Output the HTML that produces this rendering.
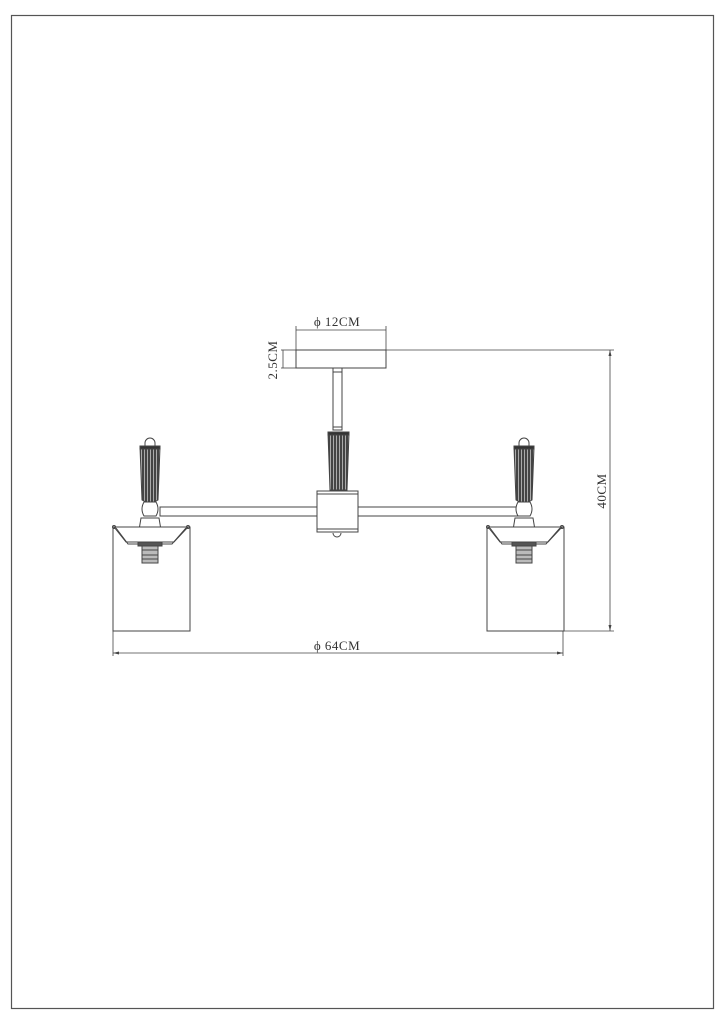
<!DOCTYPE html>
<html><head><meta charset="utf-8"><style>
html,body{margin:0;padding:0;background:#fff}
svg{display:block}
text{font-family:"Liberation Serif",serif;fill:#333;letter-spacing:0.5px}
</style></head><body>
<svg width="723" height="1024" viewBox="0 0 723 1024" xmlns="http://www.w3.org/2000/svg">
<defs>
<pattern id="rib" width="3" height="10" patternUnits="userSpaceOnUse"><rect width="3" height="10" fill="#444"/><rect width="1" height="10" fill="#aaa"/></pattern>
<g id="lamp" stroke="#444" stroke-width="1" fill="none">
  <path d="M-5,443 A5,5 0 0 1 5,443 L5,447 L-5,447 Z" fill="#fff"/>
  <path d="M-10,447 L10,447 L8,500 Q0,505 -8,500 Z" fill="url(#rib)"/>
  <rect x="-10" y="446" width="20" height="3" fill="#333"/>
  <path d="M-6,502 L6,502 Q10,509 6,516 L-6,516 Q-10,509 -6,502 Z" fill="#fff"/>
  <path d="M-9,518 L9,518 L11,530 L-11,530 Z" fill="#fff"/>
  <rect x="-37" y="527" width="77" height="104" fill="#fff"/>
  <path d="M-36,527 L-24,542 L24,542 L38,527" />
  <path d="M-34,528 L-22,544 L22,544 L36,528" />
  <circle cx="-36" cy="527" r="1.5"/><circle cx="38" cy="527" r="1.5"/>
  <rect x="-12" y="542" width="24" height="4" fill="#555"/>
  <rect x="-8" y="546" width="16" height="17" fill="#bbb"/>
  <line x1="-8" y1="550" x2="8" y2="550"/><line x1="-8" y1="555" x2="8" y2="555"/>
  <line x1="-8" y1="559" x2="8" y2="559"/>
</g>
</defs>
<rect x="11.5" y="15.5" width="702" height="993" fill="none" stroke="#555" stroke-width="1.2"/>
<g stroke="#444" stroke-width="1" fill="none">
  <rect x="296" y="350" width="90" height="18" fill="#fff"/>
  <rect x="333" y="368" width="9" height="62" fill="#fff"/>
  <line x1="333" y1="372" x2="342" y2="372"/>
  <line x1="333" y1="427" x2="342" y2="427"/>
  <path d="M328,433 L349,433 L347,490 L330,490 Z" fill="url(#rib)"/>
  <rect x="328" y="432" width="21" height="3" fill="#333"/>
  <rect x="160" y="507" width="157" height="9" fill="#fff"/>
  <rect x="358" y="507" width="162" height="9" fill="#fff"/>
  <rect x="317" y="491" width="41" height="41" fill="#fff"/>
  <line x1="317" y1="494" x2="358" y2="494"/>
  <line x1="317" y1="529" x2="358" y2="529"/>
  <path d="M333,533 A4,4 0 0 0 341,533"/>
</g>
<use href="#lamp" transform="translate(150,0)"/>
<use href="#lamp" transform="translate(524,0)"/>
<g stroke="#444" stroke-width="0.8" fill="none">
  <line x1="296" y1="330" x2="386" y2="330"/>
  <line x1="296" y1="326" x2="296" y2="350"/>
  <line x1="386" y1="326" x2="386" y2="350"/>
  <line x1="281" y1="350" x2="296" y2="350"/>
  <line x1="281" y1="368" x2="296" y2="368"/>
  <line x1="283" y1="350" x2="283" y2="368"/>
  <line x1="386" y1="350" x2="614" y2="350"/>
  <line x1="563" y1="631" x2="614" y2="631"/>
  <line x1="610" y1="350" x2="610" y2="631"/>
  <line x1="113" y1="631" x2="113" y2="656"/>
  <line x1="563" y1="631" x2="563" y2="656"/>
  <line x1="113" y1="653" x2="563" y2="653"/>
</g>
<g fill="#444">
  <path d="M113,653 l6,-1.5 v3z"/><path d="M563,653 l-6,-1.5 v3z"/>
  <path d="M610,350 l-1.5,6 h3z"/><path d="M610,631 l-1.5,-6 h3z"/>
</g>
<text x="337" y="326" font-size="13" text-anchor="middle">ϕ 12CM</text>
<text x="337" y="650" font-size="13" text-anchor="middle">ϕ 64CM</text>
<text font-size="13" text-anchor="middle" transform="translate(277,360) rotate(-90)">2.5CM</text>
<text font-size="13" text-anchor="middle" transform="translate(606,491) rotate(-90)">40CM</text>
</svg>
</body></html>
